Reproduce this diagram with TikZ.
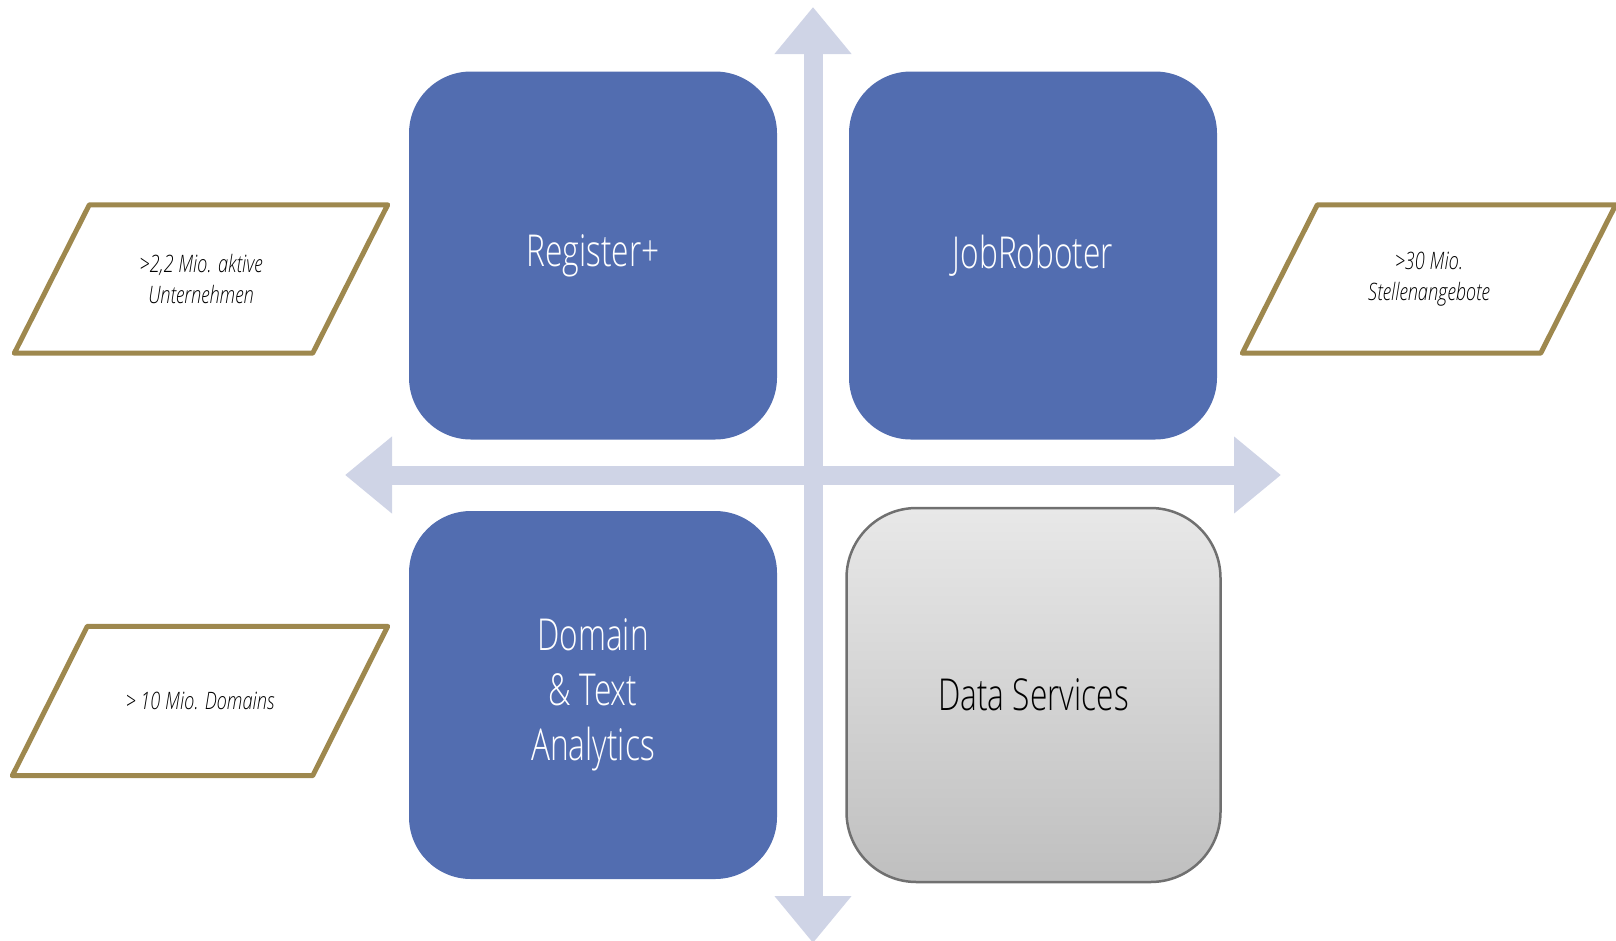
\documentclass[tikz,border=0pt]{standalone}
\usepackage{fontspec}
\usepackage{xcolor}
\usepackage{tikz}
\usetikzlibrary{arrows.meta}
\setmainfont{Open Sans Light}[FakeStretch=0.72]
\newfontfamily\factfont{Open Sans Light}[FakeStretch=0.76]
\definecolor{boxblue}{RGB}{82,109,176}
\definecolor{axisblue}{RGB}{207,212,230}
\definecolor{gold}{RGB}{158,136,78}
\definecolor{rimgray}{RGB}{112,112,112}

\begin{document}
\begin{tikzpicture}[x=1pt, y=-1pt,
        quad/.style={rectangle, rounded corners=62pt, minimum width=368pt, minimum height=368pt,
            inner sep=0pt, align=center, font=\fontsize{44}{55}\selectfont},
        fact/.style={rectangle, minimum width=373pt, minimum height=148pt, inner sep=0pt,
            align=center, font=\factfont\itshape\fontsize{24}{31}\selectfont},
        rim/.style={draw=gold, line width=5pt, line join=round},
        axis/.style={draw=axisblue, line width=19pt,
            {Triangle[length=47pt, width=74pt]}-{Triangle[length=47pt, width=74pt]}}]
        \useasboundingbox (0,0) rectangle (1616,940);

        % axes
        \coordinate (north) at (813,7);
        \coordinate (south) at (813,943);
        \coordinate (west) at (345,475);
        \coordinate (east) at (1281,475);
        \draw[axis] (south) -- (north);
        \draw[axis] (west) -- (east);

        % quadrants
        \node[quad, fill=boxblue, text=white] (register) at (593,255.5) {Register+};
        \node[quad, fill=boxblue, text=white] (jobrob) at (1033,255.5) {JobRoboter};
        \node[quad, fill=boxblue, text=white] (domain) at (593,695) {Domain\\\& Text\\Analytics};
        \node[quad, rounded corners=70pt, minimum width=374pt, minimum height=374pt,
            draw=rimgray, line width=2.5pt, top color=black!9, bottom color=black!25]
            (datasrv) at (1033.5,695) {Data Services};

        % figures
        \node[fact] (firms) at (201,279) {>2,2 Mio. aktive\\Unternehmen};
        \node[fact] (jobs) at (1429,279) {>30 Mio.\\Stellenangebote};
        \node[fact, minimum width=375pt, minimum height=149pt] (domains) at (200,701) {> 10 Mio. Domains};
        \foreach \f in {firms, jobs, domains}
            \draw[rim] ([xshift=75pt]\f.north west) -- (\f.north east)
                -- ([xshift=-75pt]\f.south east) -- (\f.south west) -- cycle;

    \end{tikzpicture}
\end{document}
